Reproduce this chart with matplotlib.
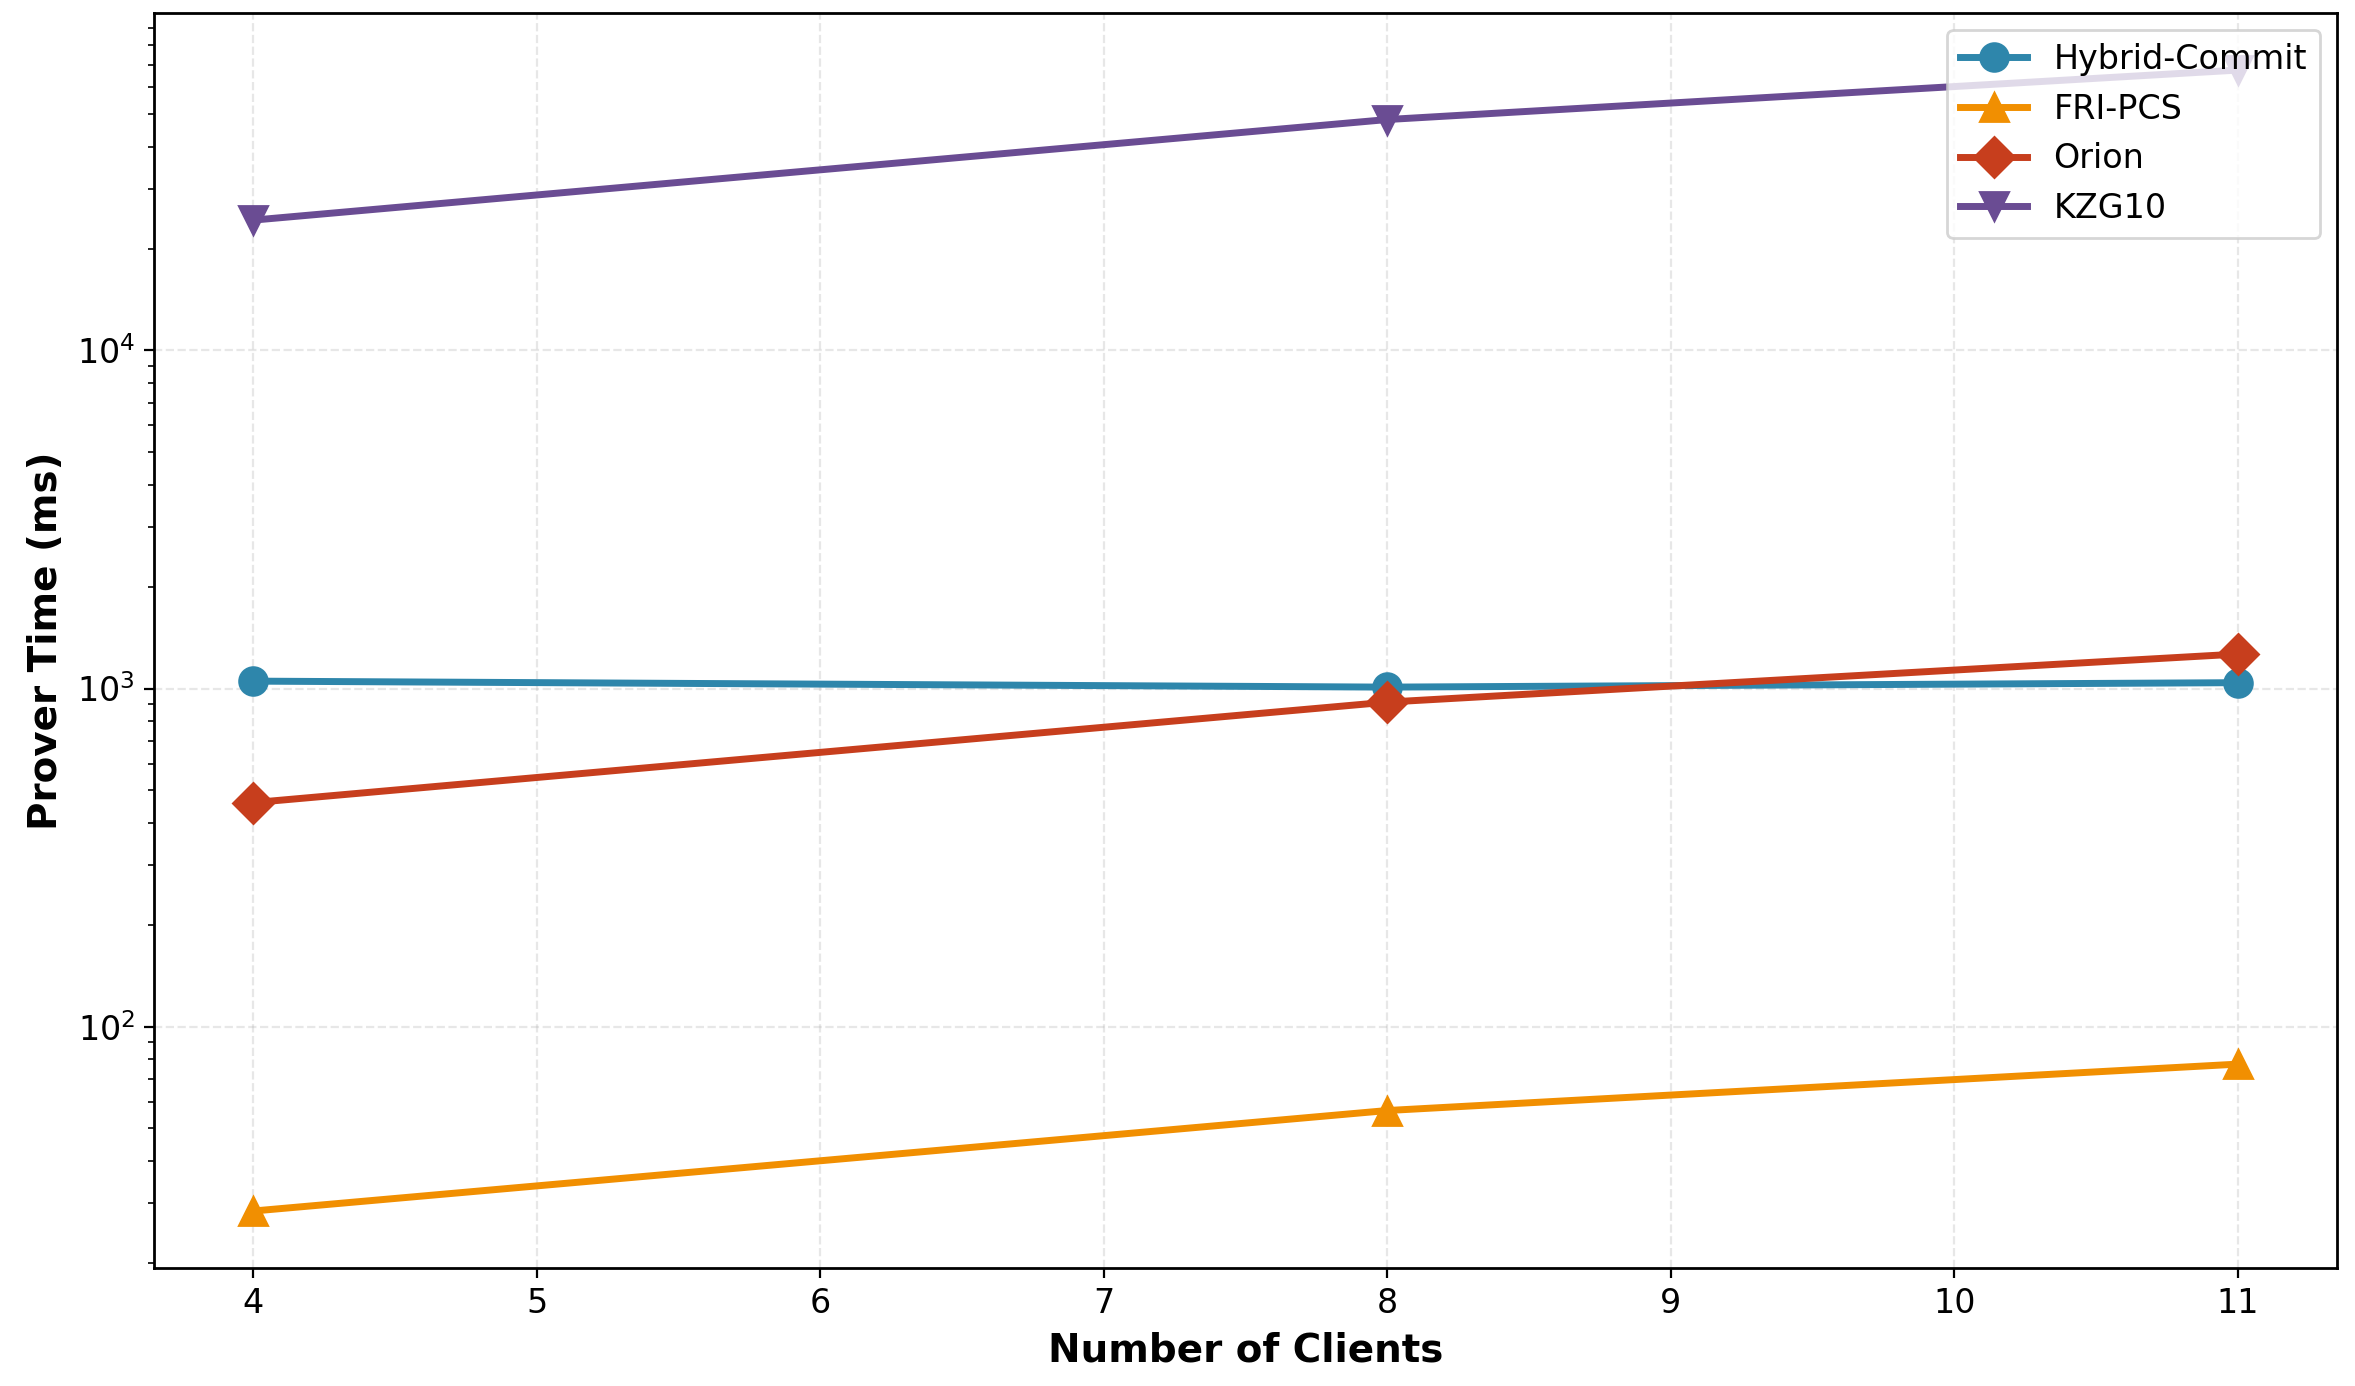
import matplotlib
matplotlib.use("Agg")
import matplotlib.pyplot as plt

clients = [4, 8, 11]
hybrid = [1052, 1010, 1041]
fri = [28.5, 56.5, 77.5]
orion = [460, 912, 1265]
kzg = [24300, 48200, 67500]

fig, ax = plt.subplots(figsize=(11.775, 6.93), dpi=200)
ax.plot(clients, hybrid, marker='o', color='#2E86AB', linewidth=2.5, markersize=10, label='Hybrid-Commit')
ax.plot(clients, fri, marker='^', color='#F18F01', linewidth=2.5, markersize=10, label='FRI-PCS')
ax.plot(clients, orion, marker='D', color='#C73E1D', linewidth=2.5, markersize=10, label='Orion')
ax.plot(clients, kzg, marker='v', color='#6A4C93', linewidth=2.5, markersize=10, label='KZG10')
ax.set_yscale('log')
ax.set_xlabel('Number of Clients', fontsize=14, fontweight='bold')
ax.set_ylabel('Prover Time (ms)', fontsize=14, fontweight='bold')
ax.tick_params(labelsize=12)
ax.grid(True, linestyle='--', alpha=0.3)
for s in ax.spines.values():
    s.set_linewidth(1.0)
ax.legend(loc='upper right', fontsize=12)
fig.subplots_adjust(left=0.0655, right=0.9924, top=0.9906, bottom=0.0851)
fig.savefig('out.png', dpi=200)
